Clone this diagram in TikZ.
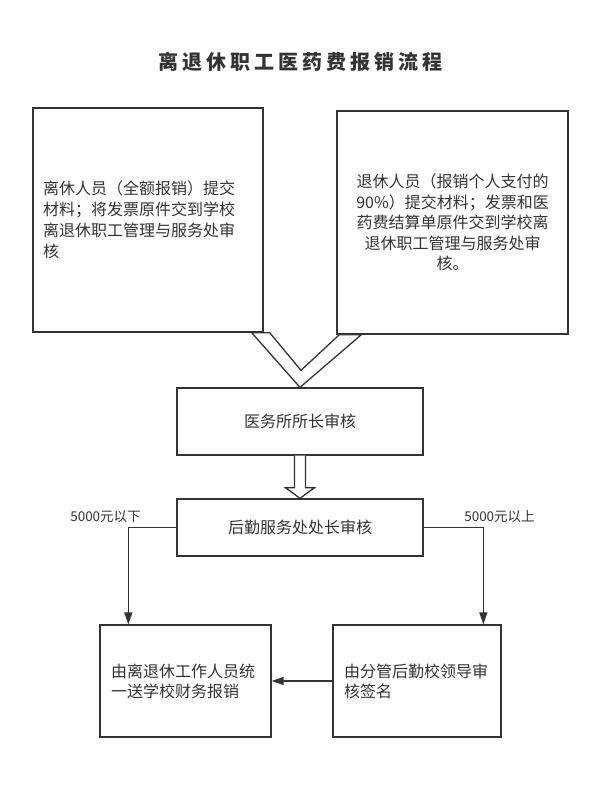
\documentclass[tikz,border=0pt]{standalone}
\usepackage{fontspec}
\setmainfont{Noto Sans CJK SC}
\newfontfamily\titlefont[LetterSpace=20]{Noto Sans CJK SC}
\usetikzlibrary{calc,arrows.meta}
\definecolor{ink}{HTML}{333333}
\begin{document}
\begin{tikzpicture}[x=1pt,y=-1pt,
  box/.style={draw=ink,line width=1.3pt,fill=white,inner sep=0pt,text=ink,font=\fontsize{16}{21}\selectfont},
  lbl/.style={text=ink,font=\fontsize{13.5}{15}\selectfont,inner sep=0pt},
  conn/.style={draw=ink,line width=1.4pt},
  arr/.style={conn,-{Triangle[length=12pt,width=8pt]}},
  hollow/.style={draw=ink,line width=1.3pt,fill=white,line join=miter}]
\useasboundingbox (0,0) rectangle (614,787);
\node[font={\titlefont\bfseries\fontsize{20}{24}\selectfont},text=ink] (title) at (300,62) {离退休职工医药费报销流程};
\node[box,minimum width=230pt,minimum height=224pt,text width=210pt,align=left] (L) at (148,220)
  {离休人员（全额报销）提交\\材料；将发票原件交到学校\\离退休职工管理与服务处审\\核};
\node[box,minimum width=231pt,minimum height=223pt,align=center,font=\fontsize{16}{20.5}\selectfont] (R) at (452.5,222.5)
  {退休人员（报销个人支付的\\90\%）提交材料；发票和医\\药费结算单原件交到学校离\\退休职工管理与服务处审\\核。};
\node[box,minimum width=246pt,minimum height=67pt] (M) at (300,421.5) {医务所所长审核};
\node[box,minimum width=246pt,minimum height=57pt] (B) at (300,527.5) {后勤服务处处长审核};
\node[box,minimum width=171pt,minimum height=112pt,text width=149pt,align=left,font=\fontsize{16}{20}\selectfont] (BL) at (185.5,681)
  {由离退休工作人员统\\一送学校财务报销};
\node[box,minimum width=168pt,minimum height=112pt,text width=146pt,align=left,font=\fontsize{16}{20}\selectfont] (BR) at (417,681)
  {由分管后勤校领导审\\核签名};
% merging V-shaped hollow arrow
\draw[hollow] ($(L.south east)+(-12,0)$) -- ($(L.south east)+(6,0)$) -- ($(M.north)+(1,-17)$)
  -- ($(R.south west)+(3,0)$) -- ($(R.south west)+(25,0)$) -- (M.north) -- cycle;
% hollow down arrow
\draw[hollow] ($(M.south)+(-5.5,0)$) -- ++(0,32) -- ++(-9,0) -- (B.north)
  -- ($(M.south)+(14.5,32)$) -- ++(-9,0) -- ($(M.south)+(5.5,0)$);
% connectors
\draw[arr] (B.west) -| ($(BL.north west)+(29,0)$);
\draw[arr] (B.east) -| ($(BR.north west)+(151,0)$);
\draw[arr] (BR.west) -- (BL.east);
\node[lbl] (lo) at (105.5,517) {5000元以下};
\node[lbl] (hi) at (499.5,517) {5000元以上};
\end{tikzpicture}
\end{document}
